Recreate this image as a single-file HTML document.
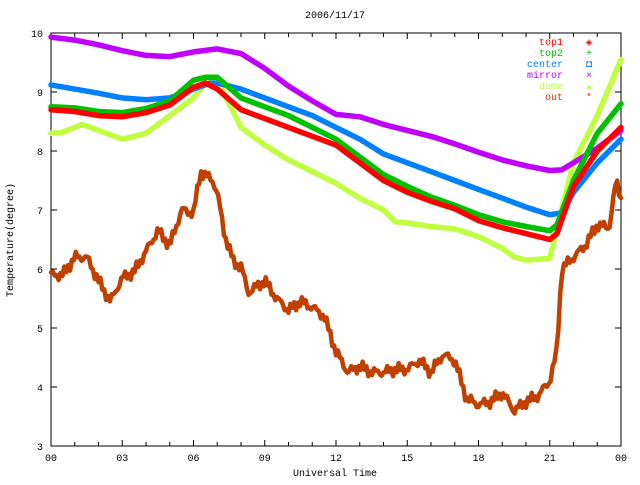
<!DOCTYPE html>
<html><head><meta charset="utf-8"><style>
body{margin:0;background:#fff}
svg text{font-family:"Liberation Mono",monospace;font-size:10px}
</style></head><body>
<svg id="s" width="640" height="480" xmlns="http://www.w3.org/2000/svg">
<rect width="640" height="480" fill="#fff"/>
<text x="335" y="18" text-anchor="middle">2006/11/17</text>
<text x="335" y="476" text-anchor="middle">Universal Time</text>
<text transform="translate(13,240) rotate(-90)" text-anchor="middle">Temperature(degree)</text>
<g id="ax" stroke="#000" stroke-width="1" fill="none"></g>
<g id="lbl"></g>
<g id="ser" fill="none" stroke-linejoin="round" stroke-linecap="round"></g>
<g text-anchor="end">
<text x="563" y="45" fill="#ff0000">top1</text>
<text x="563" y="56" fill="#00c000">top2</text>
<text x="563" y="67" fill="#0080ff">center</text>
<text x="563" y="78" fill="#c000ff">mirror</text>
<text x="563" y="89" fill="#c0ff40">dome</text>
<text x="563" y="100" fill="#c04000">out</text>
</g>
<g text-anchor="middle">
<text x="589" y="45" fill="#ff0000" style="font-size:9px">◈</text>
<text x="589" y="56" fill="#00c000">+</text>
<text x="589" y="67" fill="#0080ff">◘</text>
<text x="589" y="78" fill="#c000ff">×</text>
<text x="589" y="89" fill="#c0ff40">▴</text>
<text x="589" y="100" fill="#c04000">*</text>
</g>
</svg>
<script>
var L=51,R=621,T=33,B=446;
function X(h){return L+(R-L)*h/24}
function Y(v){return B-(B-T)*(v-3)/7}
var ns="http://www.w3.org/2000/svg",ax=document.getElementById('ax'),lb=document.getElementById('lbl'),se=document.getElementById('ser');
function el(p,t,a,tx){var e=document.createElementNS(ns,t);for(var k in a)e.setAttribute(k,a[k]);if(tx)e.textContent=tx;p.appendChild(e);return e}
el(ax,'rect',{x:L,y:T,width:R-L,height:B-T});
for(var h=0;h<=24;h++){var x=X(h),len=h%3==0?6:4;el(ax,'line',{x1:x,y1:B,x2:x,y2:B-len});el(ax,'line',{x1:x,y1:T,x2:x,y2:T+len});
if(h%3==0)el(lb,'text',{x:x,y:461,'text-anchor':'middle'},(h%24<10?'0':'')+(h%24));}
for(var v=3;v<=10;v++){var y=Y(v);el(ax,'line',{x1:L,y1:y,x2:L+6,y2:y});el(ax,'line',{x1:R,y1:y,x2:R-6,y2:y});el(lb,'text',{x:L-8,y:y+4,'text-anchor':'end'},v);}
var D={
mirror:['#c000ff',[0,9.93,1,9.88,2,9.8,3,9.7,4,9.62,5,9.6,6,9.68,7,9.73,8,9.65,9,9.4,10,9.1,11,8.85,12,8.62,13,8.58,14,8.45,15,8.35,16,8.25,17,8.12,18,7.98,19,7.85,20,7.75,21,7.67,21.5,7.68,22,7.8,23,8.05,24,8.35]],
center:['#0080ff',[0,9.12,1,9.05,2,8.98,3,8.9,4,8.87,5,8.9,6,9.05,6.7,9.15,7,9.15,8,9.05,9,8.9,10,8.75,11,8.6,12,8.4,13,8.2,14,7.95,15,7.8,16,7.65,17,7.5,18,7.35,19,7.2,20,7.05,21,6.92,21.5,6.95,22,7.3,23,7.8,24,8.2]],
top2:['#00c000',[0,8.75,1,8.73,2,8.67,3,8.65,4,8.72,5,8.85,6,9.2,6.5,9.25,7,9.25,8,8.9,9,8.75,10,8.6,11,8.4,12,8.2,13,7.9,14,7.6,15,7.4,16,7.22,17,7.08,18,6.92,19,6.8,20,6.72,21,6.65,21.3,6.75,22,7.5,23,8.3,24,8.8]],
top1:['#ff0000',[0,8.7,1,8.67,2,8.6,3,8.58,4,8.65,5,8.78,6,9.08,6.5,9.15,7,9.05,8,8.7,9,8.55,10,8.4,11,8.25,12,8.1,13,7.8,14,7.5,15,7.3,16,7.15,17,7.02,18,6.82,19,6.7,20,6.6,21,6.5,21.3,6.6,22,7.4,23,8.0,24,8.4]],
dome:['#c0ff40',[0,8.3,0.5,8.32,1.3,8.45,2,8.35,3,8.2,3.5,8.25,4,8.3,4.5,8.45,5,8.6,6,8.9,6.7,9.25,7,9.2,8,8.4,9,8.1,10,7.85,11,7.65,12,7.45,13,7.2,14,7.0,14.5,6.8,15,6.78,16,6.72,17,6.68,18,6.55,19,6.35,19.5,6.2,20,6.15,21,6.18,21.5,7.0,22,7.8,23,8.6,24,9.55]],
out:['#c04000',[0,5.9,0.5,5.9,1,6.2,1.5,6.2,2,5.8,2.5,5.45,3,5.85,3.5,5.95,4,6.3,4.5,6.65,5,6.4,5.5,7.0,6,6.95,6.3,7.65,6.8,7.5,7,7.3,7.3,6.6,7.7,6.1,8,6.05,8.3,5.6,9,5.8,9.5,5.5,10,5.3,10.5,5.45,11,5.35,11.5,5.2,12,4.6,12.5,4.25,13,4.35,13.5,4.25,14,4.25,14.5,4.3,15,4.3,15.5,4.45,16,4.25,16.5,4.55,17,4.45,17.5,3.8,18,3.7,18.5,3.75,19,3.9,19.5,3.6,20,3.75,20.5,3.85,21,4.1,21.3,4.6,21.5,6.0,22,6.2,22.5,6.4,23,6.75,23.5,6.7,23.8,7.5,24,7.2]]};
function interp(a,h){for(var i=0;i<a.length-2;i+=2){if(h<=a[i+2]){var t=(h-a[i])/(a[i+2]-a[i]);return a[i+1]+t*(a[i+3]-a[i+1]);}}return a[a.length-1];}
['out','dome','mirror','center','top2','top1'].forEach(function(k){var c=D[k][0],a=D[k][1],p='';
if(k=='out'){var n=0;for(var h=0;h<=24.001;h+=0.08){var v=interp(a,h)+0.06*Math.sin(h*37)+0.05*Math.sin(h*91+1);p+=(n++?'L':'M')+X(h).toFixed(1)+' '+Y(v).toFixed(1);}}
else for(var i=0;i<a.length;i+=2)p+=(i?'L':'M')+X(a[i]).toFixed(1)+' '+Y(a[i+1]).toFixed(1);
el(se,'path',{d:p,stroke:c,'stroke-width':k=='out'?4.5:5.5});});
</script>
</body></html>
